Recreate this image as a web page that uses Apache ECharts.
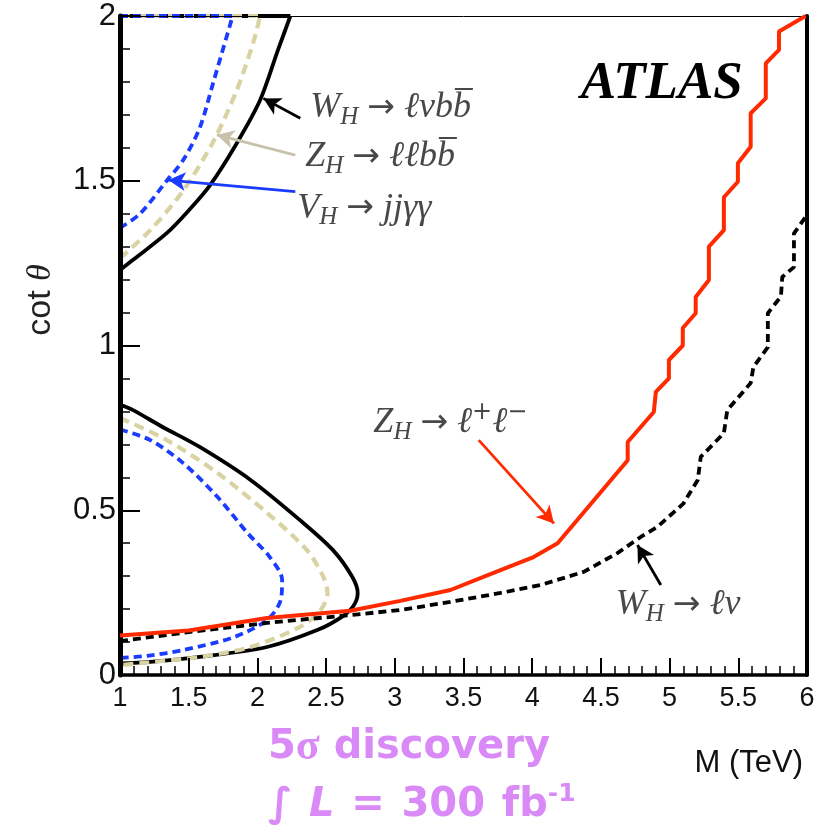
<!DOCTYPE html>
<html><head><meta charset="utf-8">
<script src="https://cdn.jsdelivr.net/npm/echarts@6/dist/echarts.min.js"></script>
<style>html,body{margin:0;padding:0;background:#fff}#c{width:819px;height:837px}</style>
</head><body><div id="c"></div>
<script>
// ---- axis ranges ----
const X_MIN = 1, X_MAX = 6, X_STEP = 0.5;
const Y_MIN = 0, Y_MAX = 2, Y_STEP = 0.5;

// ---- upper contours (M [TeV], cot theta) ----
const WH_LVBB_UPPER = [[1,1.229],[1.095,1.26],[1.34,1.341],[1.5,1.41],[1.656,1.487],[1.85,1.614],[2.02,1.745],[2.15,1.897],[2.24,2.0]];
const ZH_LLBB_UPPER = [[1,1.265],[1.22,1.35],[1.46,1.47],[1.68,1.62],[1.85,1.775],[1.97,1.92],[2.02,2.0]];
const VH_JJGG_UPPER = [[1,1.357],[1.146,1.40],[1.34,1.50],[1.46,1.563],[1.58,1.66],[1.68,1.80],[1.75,1.90],[1.82,2.0]];
const WH_LVBB_TOP = [[1,2.0],[2.24,2.0]];
const ZH_LLBB_TOP = [[1,2.0],[2.02,2.0]];
const VH_JJGG_TOP = [[1,2.0],[1.82,2.0]];

// ---- lower contours ----
const WH_LVBB_LOWER = [[1,0.82],[1.095,0.804],[1.3,0.755],[1.58,0.692],[1.95,0.592],[2.31,0.47],[2.55,0.379],[2.69,0.298],[2.73,0.249],[2.70,0.21],[2.62,0.178],[2.44,0.137],[2.07,0.085],[1.58,0.055],[1.22,0.04],[1,0.035]];
const ZH_LLBB_LOWER = [[1,0.78],[1.34,0.713],[1.71,0.613],[2.07,0.492],[2.36,0.379],[2.48,0.298],[2.51,0.249],[2.46,0.197],[2.31,0.146],[1.95,0.085],[1.58,0.055],[1.2,0.038],[1,0.03]];
const VH_JJGG_LOWER = [[1,0.745],[1.22,0.713],[1.46,0.643],[1.71,0.54],[1.93,0.43],[2.09,0.358],[2.18,0.288],[2.17,0.228],[2.07,0.167],[1.83,0.115],[1.46,0.076],[1.2,0.058],[1,0.052]];

// ---- Z_H -> l+l- (red) and W_H -> l nu (black dashed) ----
const ZH_LL = [[1,0.12],[1.5,0.135],[2.07,0.173],[2.676,0.195],[3.04,0.225],[3.405,0.258],[3.7,0.307],[4.01,0.358],[4.185,0.40],[4.695,0.652],[4.695,0.707],[4.885,0.798],[4.90,0.859],[4.995,0.90],[4.995,0.956],[5.096,1.0],[5.096,1.053],[5.19,1.098],[5.19,1.147],[5.286,1.199],[5.286,1.30],[5.395,1.35],[5.395,1.45],[5.497,1.497],[5.497,1.553],[5.59,1.603],[5.59,1.705],[5.70,1.75],[5.70,1.856],[5.796,1.897],[5.796,1.953],[5.99,2.0]];
const WH_LV = [[1,0.103],[1.5,0.13],[2.07,0.158],[2.676,0.182],[3.04,0.197],[3.405,0.222],[3.77,0.249],[4.06,0.273],[4.375,0.313],[4.62,0.37],[4.79,0.419],[4.91,0.449],[5.10,0.52],[5.205,0.592],[5.227,0.662],[5.395,0.734],[5.42,0.804],[5.59,0.886],[5.61,0.935],[5.715,0.995],[5.715,1.098],[5.79,1.138],[5.81,1.147],[5.82,1.208],[5.905,1.238],[5.905,1.34],[5.99,1.39],[6.0,1.40]];

// ---- annotation arrows: [tail, tip] in data units ----
const ARROW_WH_LVBB = [[2.312,1.690],[2.044,1.750]];
const ARROW_ZH_LLBB = [[2.276,1.578],[1.705,1.639]];
const ARROW_VH_JJGG = [[2.276,1.467],[1.352,1.502]];
const ARROW_ZH_LL   = [[3.611,0.713],[4.158,0.460]];
const ARROW_WH_LV   = [[4.936,0.273],[4.766,0.3945]];

// ---- annotation label anchors (left, middle) in data units ----
const LABEL_WH_LVBB = [2.385,1.721];
const LABEL_ZH_LLBB = [2.348,1.572];
const LABEL_VH_JJGG = [2.29,1.417];
const LABEL_ZH_LL   = [2.844,0.765];
const LABEL_WH_LV   = [4.608,0.2125];
const LABEL_ATLAS   = [4.353,1.794];

const BLACK = '#000', BEIGE = '#d9d2a2', BLUE = '#1a3cff', RED = '#ff2a00';
const PURPLE = '#d98af7', GREY = '#484848';

function lineSeries(name, data, color, width, type, smooth, z) {
  return { name, type:'line', data, showSymbol:false, symbol:'none', smooth: smooth, z: z,
    lineStyle:{ color, width, type }, silent:true, clip:true };
}
function arrow(pts, color) {
  return [{ coord: pts[0], lineStyle:{ color } }, { coord: pts[1] }];
}

const chart = echarts.init(document.getElementById('c'), null, { renderer:'canvas' });

const axisCommon = { splitLine:{ show:false }, minorSplitLine:{ show:false } };

const option = {
  animation:false,
  backgroundColor:'#fff',
  grid:{ left:120, right:12, top:16, bottom:162, containLabel:false },
  xAxis:[
    Object.assign({ type:'value', min:X_MIN, max:X_MAX, interval:X_STEP, position:'bottom', z:5,
      axisLine:{ show:true, onZero:false, lineStyle:{ color:BLACK, width:3.5 } },
      axisTick:{ show:true, inside:true, length:17, lineStyle:{ color:BLACK, width:2 } },
      minorTick:{ show:true, splitNumber:5, length:9, lineStyle:{ color:BLACK, width:1.5 } },
      axisLabel:{ color:'#111', fontSize:27, fontFamily:'Liberation Sans', margin:10, showMinLabel:true, showMaxLabel:true }
    }, axisCommon),
    Object.assign({ type:'value', min:X_MIN, max:X_MAX, position:'top', z:5,
      axisLine:{ show:true, onZero:false, lineStyle:{ color:BLACK, width:1 } },
      axisTick:{ show:false }, axisLabel:{ show:false }
    }, axisCommon)
  ],
  yAxis:[
    Object.assign({ type:'value', min:Y_MIN, max:Y_MAX, interval:Y_STEP, position:'left', z:5,
      axisLine:{ show:true, onZero:false, lineStyle:{ color:BLACK, width:5 } },
      axisTick:{ show:true, inside:true, length:20, lineStyle:{ color:BLACK, width:2 } },
      minorTick:{ show:true, splitNumber:5, length:10, lineStyle:{ color:BLACK, width:1.5 } },
      axisLabel:{ color:'#111', fontSize:31, fontFamily:'Liberation Sans', margin:4, showMinLabel:true, showMaxLabel:true }
    }, axisCommon),
    Object.assign({ type:'value', min:Y_MIN, max:Y_MAX, position:'right', z:5,
      axisLine:{ show:true, onZero:false, lineStyle:{ color:BLACK, width:4 } },
      axisTick:{ show:false }, axisLabel:{ show:false }
    }, axisCommon)
  ],
  series:[
    lineSeries('WH_lvbb_up', WH_LVBB_UPPER, BLACK, 3.8, 'solid', 0.3, 2),
    lineSeries('WH_lvbb_top', WH_LVBB_TOP, BLACK, 3.8, 'solid', false, 2),
    lineSeries('ZH_llbb_up', ZH_LLBB_UPPER, BEIGE, 4.2, [10,6], 0.3, 3),
    lineSeries('ZH_llbb_top', ZH_LLBB_TOP, BEIGE, 4.2, [10,6], false, 3),
    lineSeries('VH_jjgg_up', VH_JJGG_UPPER, BLUE, 3.8, [8,5], 0.3, 4),
    lineSeries('VH_jjgg_top', VH_JJGG_TOP, BLUE, 3.8, [8,5], false, 4),
    lineSeries('WH_lvbb_low', WH_LVBB_LOWER, BLACK, 3.8, 'solid', 0.3, 2),
    lineSeries('ZH_llbb_low', ZH_LLBB_LOWER, BEIGE, 4.2, [10,6], 0.3, 3),
    lineSeries('VH_jjgg_low', VH_JJGG_LOWER, BLUE, 3.8, [8,5], 0.3, 4),
    lineSeries('WH_lv', WH_LV, BLACK, 3.8, [8,5], false, 4),
    lineSeries('ZH_ll', ZH_LL, RED, 4, 'solid', false, 5),
    { name:'arrows', type:'line', data:[], silent:true, z:6,
      markLine:{ silent:true, animation:false, symbol:['none','arrow'], symbolSize:[14,17],
        label:{ show:false }, lineStyle:{ type:'solid', width:2.8 },
        emphasis:{ disabled:true },
        data:[
          arrow(ARROW_WH_LVBB, BLACK),
          arrow(ARROW_ZH_LLBB, '#c9c2aa'),
          arrow(ARROW_VH_JJGG, BLUE),
          arrow(ARROW_ZH_LL, RED),
          arrow(ARROW_WH_LV, BLACK)
        ] } }
  ]
};
chart.setOption(option);

const serif = "'Liberation Serif','DejaVu Serif',serif";
const mathRich = {
  m:{ fontFamily:serif, fontStyle:'italic', fontSize:36, fill:GREY, lineHeight:44 },
  a:{ fontFamily:'DejaVu Sans', fontStyle:'normal', fontSize:33, fill:GREY, lineHeight:44 },
  sp:{ fontFamily:serif, fontSize:36, fill:GREY, lineHeight:44 },
  s:{ fontFamily:serif, fontStyle:'italic', fontSize:25, fill:GREY, lineHeight:25, verticalAlign:'bottom' },
  p:{ fontFamily:'DejaVu Sans', fontStyle:'normal', fontSize:24, fill:GREY, lineHeight:24, verticalAlign:'top' }
};
function mathText(pos, text) {
  const p = chart.convertToPixel({ gridIndex:0 }, pos);
  return { type:'text', x:p[0], y:p[1], z:20, silent:true,
    style:{ text, rich:mathRich, fill:GREY, align:'left', verticalAlign:'middle' } };
}
const atlasPx = chart.convertToPixel({ gridIndex:0 }, LABEL_ATLAS);

chart.setOption({
  graphic:[
    mathText(LABEL_WH_LVBB, '{m|W}{s|H}{sp| }{a|→}{sp| }{m|ℓνbb\u0305}'),
    mathText(LABEL_ZH_LLBB, '{m|Z}{s|H}{sp| }{a|→}{sp| }{m|ℓℓbb\u0305}'),
    mathText(LABEL_VH_JJGG, '{m|V}{s|H}{sp| }{a|→}{sp| }{m|jjγγ}'),
    mathText(LABEL_ZH_LL, '{m|Z}{s|H}{sp| }{a|→}{sp| }{m|ℓ}{p|+}{m|ℓ}{p|−}'),
    mathText(LABEL_WH_LV, '{m|W}{s|H}{sp| }{a|→}{sp| }{m|ℓν}'),
    { type:'text', x:atlasPx[0], y:atlasPx[1], z:20, silent:true,
      style:{ text:'ATLAS', fontFamily:serif, fontStyle:'italic', fontWeight:'bold', fontSize:53, fill:'#000', align:'left', verticalAlign:'middle' } },
    { type:'text', x:803, y:763, z:20, silent:true,
      style:{ text:'M (TeV)', fontFamily:'Liberation Sans', fontSize:31, fill:'#111', align:'right', verticalAlign:'middle' } },
    { type:'text', x:41, y:300, rotation:Math.PI/2, z:20, silent:true,
      style:{ text:'{n|cot }{t|θ}', fill:'#222', align:'center', verticalAlign:'middle',
        rich:{ n:{ fontFamily:'Liberation Sans', fontSize:34, fill:'#222' }, t:{ fontFamily:serif, fontStyle:'italic', fontSize:34, fill:'#222' } } } },
    { type:'text', x:268, y:748, z:20, silent:true,
      style:{ text:'{b|5}{g|σ}{b| discovery}', fill:PURPLE, align:'left', verticalAlign:'middle',
        rich:{ b:{ fontFamily:'DejaVu Sans', fontWeight:'bold', fontSize:40, fill:PURPLE },
               g:{ fontFamily:serif, fontWeight:'bold', fontSize:44, fill:PURPLE } } } },
    { type:'text', x:268, y:806, z:20, silent:true,
      style:{ text:'{b|∫}{w| }{l|L}{w| }{b|=}{w| }{b|300}{w| }{b|fb}{u|-1}', fill:PURPLE, align:'left', verticalAlign:'middle',
        rich:{ b:{ fontFamily:'DejaVu Sans', fontWeight:'bold', fontSize:40, fill:PURPLE, lineHeight:48 },
               w:{ fontFamily:'DejaVu Sans', fontWeight:'bold', fontSize:48, fill:PURPLE, lineHeight:48 },
               l:{ fontFamily:'DejaVu Sans', fontStyle:'italic', fontWeight:'bold', fontSize:40, fill:PURPLE, lineHeight:48 },
               u:{ fontFamily:'DejaVu Sans', fontWeight:'bold', fontSize:25, fill:PURPLE, lineHeight:25, verticalAlign:'top' } } } }
  ]
});
</script>
</body></html>
